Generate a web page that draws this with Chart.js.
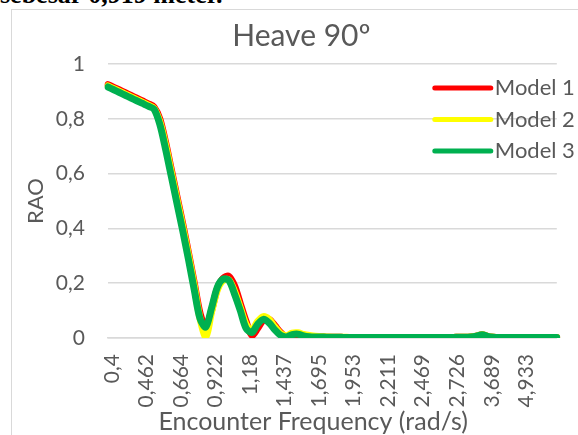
<!DOCTYPE html>
<html>
<head>
<meta charset="utf-8">
<script src="https://cdn.jsdelivr.net/npm/chart.js@4/dist/chart.umd.min.js"></script>
<style>
  body { margin: 0; width: 578px; height: 435px; overflow: hidden; background: #fff; position: relative; }
  #note { position: absolute; left: 0px; top: -20px; font: bold 26px "Liberation Serif", serif; color: #000; white-space: nowrap; }
  #box { position: absolute; left: 11px; top: 9px; width: 620px; height: 460px; border: 1px solid #d9d9d9; }
  #chart-display { position: absolute; left: 0; top: 0; }
</style>
</head>
<body>
<div id="note">sebesar 0,919 meter.</div>
<div id="box"><canvas id="chart-display" width="572" height="430"></canvas></div>
<script>
var tickLabels = ['0,4', '0,462', '0,664', '0,922', '1,18', '1,437', '1,695', '1,953', '2,211', '2,469', '2,726', '3,689', '4,933'];
var labelEvery = 6;

var modelOne = [0.925, 0.915, 0.905, 0.895, 0.885, 0.875, 0.865, 0.855, 0.843, 0.80,
    0.715, 0.615, 0.515, 0.415, 0.31, 0.20, 0.09, 0.04, 0.10, 0.18,
    0.218, 0.225, 0.19, 0.125, 0.06, 0.01, 0.035, 0.065, 0.068, 0.045,
    0.02, 0.004, 0.006, 0.011, 0.009, 0.006, 0.004, 0.004, 0.003, 0.003,
    0.003, 0.002, 0.002, 0.002, 0.002, 0.002, 0.002, 0.002, 0.002, 0.002,
    0.002, 0.002, 0.002, 0.002, 0.002, 0.002, 0.002, 0.002, 0.002, 0.002,
    0.002, 0.003, 0.003, 0.004, 0.007, 0.012, 0.006, 0.003, 0.002, 0.002,
    0.002, 0.002, 0.002, 0.002, 0.002, 0.002, 0.002, 0.002, 0.002];

var modelTwo = [0.92, 0.91, 0.90, 0.89, 0.88, 0.87, 0.86, 0.85, 0.838, 0.79,
    0.705, 0.605, 0.505, 0.405, 0.30, 0.19, 0.07, 0.005, 0.095, 0.175,
    0.21, 0.212, 0.17, 0.11, 0.05, 0.028, 0.06, 0.078, 0.068, 0.04,
    0.016, 0.008, 0.018, 0.019, 0.013, 0.009, 0.006, 0.005, 0.004, 0.003,
    0.003, 0.003, 0.002, 0.002, 0.002, 0.002, 0.002, 0.002, 0.002, 0.002,
    0.002, 0.002, 0.002, 0.002, 0.002, 0.002, 0.002, 0.002, 0.002, 0.002,
    0.002, 0.003, 0.003, 0.004, 0.007, 0.012, 0.006, 0.003, 0.002, 0.002,
    0.002, 0.002, 0.002, 0.002, 0.002, 0.002, 0.002, 0.002, 0.002];

var modelThree = [0.916, 0.906, 0.896, 0.886, 0.876, 0.866, 0.856, 0.846, 0.835, 0.78,
    0.69, 0.59, 0.49, 0.39, 0.285, 0.175, 0.07, 0.04, 0.11, 0.185,
    0.215, 0.21, 0.16, 0.10, 0.035, 0.02, 0.05, 0.068, 0.055, 0.03,
    0.01, 0.004, 0.012, 0.014, 0.008, 0.005, 0.004, 0.004, 0.003, 0.003,
    0.003, 0.002, 0.002, 0.002, 0.002, 0.002, 0.002, 0.002, 0.002, 0.002,
    0.002, 0.002, 0.002, 0.002, 0.002, 0.002, 0.002, 0.002, 0.002, 0.002,
    0.002, 0.003, 0.003, 0.004, 0.007, 0.012, 0.006, 0.003, 0.002, 0.002,
    0.002, 0.002, 0.002, 0.002, 0.002, 0.002, 0.002, 0.002, 0.002];

// category axis: one slot per point, only every 6th one gets its frequency label
var labels = modelThree.map(function(v, i) {
    return i % labelEvery === 0 && tickLabels[i / labelEvery] ? tickLabels[i / labelEvery] : '';
});

var textColor = '#595959';
var gridColor = '#d9d9d9';

// legend sits inside the plot, top right, like the Excel one
var insideLegend = {
    id: 'insideLegend',
    afterDraw: function(chart) {
        var c = chart.ctx;
        var area = chart.chartArea;
        c.save();
        c.font = '22px Lato';
        c.textBaseline = 'middle';
        c.textAlign = 'left';
        chart.data.datasets.forEach(function(ds, row) {
            var y = area.top + 24 + row * 31.5;
            c.strokeStyle = ds.borderColor;
            c.lineWidth = 5;
            c.lineCap = 'round';
            c.beginPath();
            c.moveTo(area.right - 122, y);
            c.lineTo(area.right - 66, y);
            c.stroke();
            c.fillStyle = textColor;
            c.fillText(ds.label, area.right - 62, y);
        });
        c.restore();
    }
};

var ctx = document.getElementById('chart-display');

new Chart(ctx, {
    type: 'line',
    data: {
        labels: labels,
        datasets: [{
            label: 'Model 1',
            data: modelOne,
            borderColor: '#ff0000',
            backgroundColor: '#ff0000',
            order: 3
        }, {
            label: 'Model 2',
            data: modelTwo,
            borderColor: '#ffff00',
            backgroundColor: '#ffff00',
            order: 2
        }, {
            label: 'Model 3',
            data: modelThree,
            borderColor: '#00b050',
            backgroundColor: '#00b050',
            order: 1
        }]
    },
    plugins: [insideLegend],
    options: {
        responsive: false,
        animation: false,
        elements: {
            line: { borderWidth: 7, tension: 0.3, borderCapStyle: 'round', borderJoinStyle: 'round' },
            point: { radius: 0 }
        },
        layout: { padding: { left: 0, right: 24, top: 0, bottom: 0 } },
        plugins: {
            legend: { display: false },
            tooltip: { enabled: false },
            title: {
                display: true,
                // leading spaces push the centre right, as in the Excel box
                text: '\u00a0\u00a0\u00a0\u00a0Heave 90º',
                color: textColor,
                font: { family: 'Lato', size: 30, weight: 'normal' },
                padding: { top: 8, bottom: 10 }
            }
        },
        scales: {
            x: {
                // tick marks hidden, tickLength only used as the gap under the axis
                grid: { display: false, drawTicks: true, tickLength: 14 },
                border: { display: true, color: gridColor, width: 1.5 },
                ticks: {
                    autoSkip: false,
                    maxRotation: 90,
                    minRotation: 90,
                    padding: 2,
                    labelOffset: 4,
                    color: textColor,
                    font: { family: 'Lato', size: 21 }
                },
                title: {
                    display: true,
                    text: 'Encounter Frequency (rad/s)\u00a0\u00a0\u00a0\u00a0\u00a0\u00a0',
                    color: textColor,
                    font: { family: 'Lato', size: 25 },
                    padding: { top: 0, bottom: 3 }
                },
                afterFit: function(scale) { scale.height = 102; }
            },
            y: {
                min: 0,
                max: 1,
                grid: { color: gridColor, lineWidth: 1.5, drawTicks: false },
                border: { display: false },
                ticks: {
                    stepSize: 0.2,
                    padding: 23,
                    color: textColor,
                    font: { family: 'Lato', size: 21 },
                    callback: function(value) {
                        return (Math.round(value * 10) / 10).toString().replace('.', ',');
                    }
                },
                title: {
                    display: true,
                    text: 'RAO',
                    color: textColor,
                    font: { family: 'Lato', size: 22 },
                    padding: { top: 11, bottom: 0 }
                },
                afterFit: function(scale) { scale.width = 96; }
            }
        }
    }
});
</script>
</body>
</html>
